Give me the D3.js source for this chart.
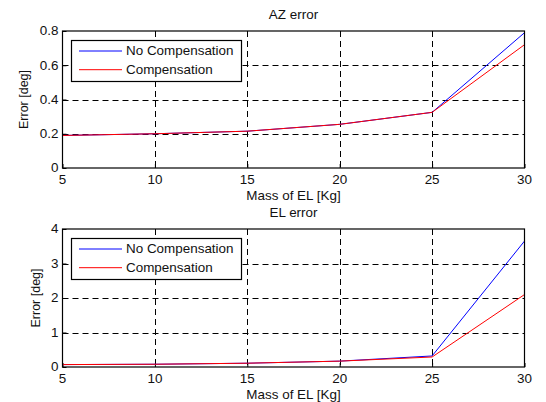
<!DOCTYPE html>
<html><head><meta charset="utf-8">
<script src="https://cdn.jsdelivr.net/npm/d3@7"></script>
<style>
html,body{margin:0;padding:0;background:#fff;}
svg{display:block;}
text{font-family:"Liberation Sans",Arial,sans-serif;fill:#111;}
</style></head>
<body>
<script>
const mass = [5, 10, 15, 20, 25, 30];
const azNoComp = [0.19, 0.20, 0.215, 0.255, 0.325, 0.79];
const azComp   = [0.19, 0.20, 0.215, 0.255, 0.325, 0.72];
const elNoComp = [0.07, 0.08, 0.11, 0.17, 0.32, 3.65];
const elComp   = [0.07, 0.08, 0.11, 0.17, 0.29, 2.10];
const xTicks = [5, 10, 15, 20, 25, 30];
const azYTicks = [0, 0.2, 0.4, 0.6, 0.8];
const elYTicks = [0, 1, 2, 3, 4];
const seriesNames = ["No Compensation", "Compensation"];
const seriesColors = ["#0000ff", "#ff0000"];

const W = 546, H = 402, SX = 1.12;
const svg = d3.select("body").append("svg").attr("width", W).attr("height", H);

function txt(g, x, y, s, anchor, size) {
  return g.append("text")
    .attr("transform", `translate(${x},${y}) scale(${SX},1)`)
    .attr("text-anchor", anchor || "start")
    .style("font-size", (size || 12) + "px")
    .text(s);
}

const x = d3.scaleLinear().domain([5, 30]).range([62.5, 524.5]);

function panel(cfg) {
  const y = d3.scaleLinear().domain(cfg.yDomain).range([cfg.bottom, cfg.top]);
  const g = svg.append("g");
  const x0 = x.range()[0], x1 = x.range()[1];
  // grid
  const grid = g.append("g").attr("stroke", "#000").attr("stroke-width", 1)
    .attr("stroke-dasharray", "6,4");
  xTicks.slice(1, -1).forEach(t => {
    grid.append("line").attr("x1", Math.round(x(t)) + 0.5).attr("x2", Math.round(x(t)) + 0.5)
      .attr("y1", cfg.top).attr("y2", cfg.bottom);
  });
  cfg.yTicks.slice(1, -1).forEach(t => {
    grid.append("line").attr("y1", Math.round(y(t)) + 0.5).attr("y2", Math.round(y(t)) + 0.5)
      .attr("x1", x0).attr("x2", x1);
  });
  // axes (ticks inward)
  const xa = g.append("g").attr("transform", `translate(0,${cfg.bottom})`)
    .call(d3.axisBottom(x).tickValues(xTicks).tickSizeInner(-4).tickSizeOuter(0).tickFormat(""));
  const ya = g.append("g").attr("transform", `translate(${x0},0)`)
    .call(d3.axisLeft(y).tickValues(cfg.yTicks).tickSizeInner(-4).tickSizeOuter(0).tickFormat(""));
  [xa, ya].forEach(a => { a.select(".domain").remove(); a.selectAll("line").attr("stroke", "#000"); });
  // tick labels
  xTicks.forEach(t => txt(g, x(t), cfg.bottom + 15.5, d3.format("d")(t), "middle"));
  cfg.yTicks.forEach(t => txt(g, x0 - 4, y(t) + 4.3, cfg.fmt(t), "end"));
  // lines
  const line = d3.line().x((d, i) => x(mass[i])).y(d => y(d));
  cfg.series.forEach((s, k) => {
    g.append("path").datum(s).attr("d", line).attr("fill", "none")
      .attr("stroke", seriesColors[k]).attr("stroke-width", 1);
  });
  // box
  g.append("rect").attr("x", x0).attr("y", cfg.top).attr("width", x1 - x0)
    .attr("height", cfg.bottom - cfg.top).attr("fill", "none").attr("stroke", "#000").attr("stroke-width", 1.2);
  // title and labels
  txt(g, (x0 + x1) / 2, cfg.top - 12, cfg.title, "middle");
  txt(g, (x0 + x1) / 2, cfg.bottom + 31.5, "Mass of EL [Kg]", "middle");
  g.append("text").attr("transform", `translate(${cfg.ylabX},${(cfg.top + cfg.bottom) / 2}) rotate(-90)`)
    .attr("text-anchor", "middle").style("font-size", "12.5px").text("Error [deg]");
  // legend
  const lg = g.append("g");
  lg.append("rect").attr("x", 71.5).attr("y", cfg.top + 9.5).attr("width", 170).attr("height", 41)
    .attr("fill", "#fff").attr("stroke", "#000").attr("stroke-width", 1.2);
  seriesNames.forEach((n, k) => {
    const ly = cfg.top + 20 + k * 18.7;
    lg.append("line").attr("x1", 79).attr("x2", 122).attr("y1", ly).attr("y2", ly)
      .attr("stroke", seriesColors[k]).attr("stroke-width", 1);
    txt(lg, 126, ly + 4.3, n, "start");
  });
}

panel({ yDomain: [0, 0.8], top: 31, bottom: 168, yTicks: azYTicks,
  fmt: d3.format(".1~f"), series: [azNoComp, azComp], title: "AZ error", ylabX: 27.5 });
panel({ yDomain: [0, 4], top: 229, bottom: 367, yTicks: elYTicks,
  fmt: d3.format("d"), series: [elNoComp, elComp], title: "EL error", ylabX: 39.5 });
</script>
</body></html>
